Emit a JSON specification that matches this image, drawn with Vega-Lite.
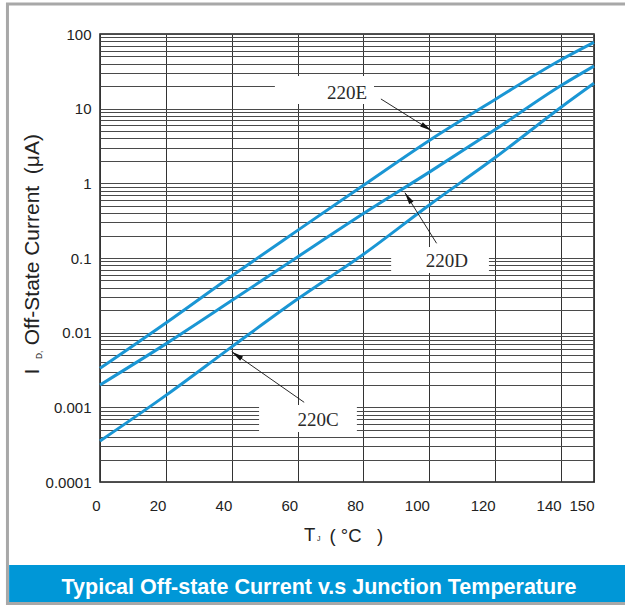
{
  "$schema": "https://vega.github.io/schema/vega-lite/v6.json",
  "width": 494,
  "height": 448,
  "autosize": "none",
  "padding": {"left": 100, "top": 34, "right": 31, "bottom": 125},
  "background": "white",
  "config": {
    "view": {"stroke": "#1a1a1a", "strokeWidth": 1.5},
    "axis": {"domain": false, "ticks": false, "labelFont": "Liberation Sans", "labelFontSize": 15, "labelColor": "#222", "titleFont": "Liberation Sans", "titleFontWeight": "normal", "titleColor": "#222"}
  },
  "datasets": {
    "curves": [
      {"s": "220E", "t": 0, "i": 0.00333}, {"s": "220E", "t": 20, "i": 0.01349}, {"s": "220E", "t": 40, "i": 0.0575}, {"s": "220E", "t": 60, "i": 0.2344}, {"s": "220E", "t": 80, "i": 0.944}, {"s": "220E", "t": 100, "i": 3.76}, {"s": "220E", "t": 120, "i": 13.3}, {"s": "220E", "t": 140, "i": 45.2}, {"s": "220E", "t": 150, "i": 77.4},
      {"s": "220D", "t": 0, "i": 0.001995}, {"s": "220D", "t": 20, "i": 0.00708}, {"s": "220D", "t": 40, "i": 0.0269}, {"s": "220D", "t": 60, "i": 0.1035}, {"s": "220D", "t": 80, "i": 0.394}, {"s": "220D", "t": 100, "i": 1.413}, {"s": "220D", "t": 120, "i": 5.25}, {"s": "220D", "t": 140, "i": 20.4}, {"s": "220D", "t": 150, "i": 37.2},
      {"s": "220C", "t": 0, "i": 0.000354}, {"s": "220C", "t": 20, "i": 0.001445}, {"s": "220C", "t": 40, "i": 0.00646}, {"s": "220C", "t": 60, "i": 0.0282}, {"s": "220C", "t": 80, "i": 0.1122}, {"s": "220C", "t": 100, "i": 0.513}, {"s": "220C", "t": 120, "i": 2.213}, {"s": "220C", "t": 140, "i": 10.47}, {"s": "220C", "t": 150, "i": 21.88}
    ],
    "notes": [
      {"name": "220E", "tx": 75.0, "ty": 16.2, "bx1": 53.1, "bx2": 83.2, "by1": 27.4, "by2": 11.55, "ax1": 85.3, "ay1": 13.48, "ax2": 100.7, "ay2": 5.07},
      {"name": "220D", "tx": 105.3, "ty": 0.0912, "bx1": 88.4, "bx2": 118.1, "by1": 0.1403, "by2": 0.063, "ax1": 102.2, "ay1": 0.1574, "ax2": 92.6, "ay2": 0.749},
      {"name": "220C", "tx": 66.2, "ty": 0.000677, "bx1": 48.3, "bx2": 78.0, "by1": 0.001074, "by2": 0.000468, "ax1": 62.0, "ay1": 0.001167, "ax2": 40.0, "ay2": 0.00556}
    ],
    "caption": [{"text": "Typical Off-state Current v.s Junction Temperature"}],
    "tsym": [{"text": "T"}],
    "subs": [{"text": "J"}],
    "subsy": [{"text": "D,"}]
  },
  "layer": [
    {
      "data": {"name": "caption"},
      "mark": {"type": "rect", "fillOpacity": 0, "stroke": "#a8a8a8", "strokeWidth": 3},
      "encoding": {
        "x": {"datum": -28.1, "type": "quantitative"},
        "x2": {"datum": 164},
        "y": {"datum": 252, "type": "quantitative"},
        "y2": {"datum": 0.00000236}
      }
    },
    {
      "data": {"name": "caption"},
      "mark": {"type": "rect", "fill": "#0097d7"},
      "encoding": {
        "x": {"datum": -27.6, "type": "quantitative"},
        "x2": {"datum": 164},
        "y": {"datum": 0.00000773, "type": "quantitative"},
        "y2": {"datum": 0.00000247}
      }
    },
    {
      "data": {"name": "notes"},
      "mark": {"type": "rect", "fill": "white"},
      "encoding": {
        "x": {"field": "bx1", "type": "quantitative"},
        "x2": {"field": "bx2"},
        "y": {"field": "by1", "type": "quantitative"},
        "y2": {"field": "by2"}
      }
    },
    {
      "data": {"name": "curves"},
      "mark": {"type": "line", "strokeWidth": 3, "interpolate": "monotone", "color": "#1a96d4"},
      "encoding": {
        "x": {
          "field": "t", "type": "quantitative",
          "scale": {"domain": [0, 150], "nice": false, "zero": false},
          "axis": {
            "values": [0, 20, 40, 60, 80, 100, 120, 140, 150],
            "grid": true, "gridColor": "#333", "gridWidth": 1,
            "labelAlign": "right", "labelDx": -1, "labelBaseline": "top", "labelPadding": 16, "labelFlush": false, "labelOverlap": false,
            "title": "(\u00a0°C\u00a0\u00a0\u00a0)", "titleFontSize": 18.5,
            "titleX": 229, "titleY": 59, "titleAlign": "left", "titleBaseline": "alphabetic", "titleAnchor": null
          }
        },
        "y": {
          "field": "i", "type": "quantitative",
          "scale": {"type": "log", "domain": [0.0001, 100], "nice": false},
          "axis": {
            "values": [0.0001, 0.0002, 0.0003, 0.0004, 0.0005, 0.0006, 0.0007, 0.0008, 0.0009, 0.001, 0.002, 0.003, 0.004, 0.005, 0.006, 0.007, 0.008, 0.009, 0.01, 0.02, 0.03, 0.04, 0.05, 0.06, 0.07, 0.08, 0.09, 0.1, 0.2, 0.3, 0.4, 0.5, 0.6, 0.7, 0.8, 0.9, 1, 2, 3, 4, 5, 6, 7, 8, 9, 10, 20, 30, 40, 50, 60, 70, 80, 90, 100],
            "format": "~g",
            "labelExpr": "(datum.value == 100 || datum.value == 10 || datum.value == 1 || datum.value == 0.1 || datum.value == 0.01 || datum.value == 0.001 || datum.value == 0.0001) ? datum.label : ''",
            "grid": true, "gridColor": "#4a4a4a", "gridWidth": 1,
            "labelPadding": 9, "labelBaseline": "middle", "labelDy": 1.5, "labelOverlap": false, "labelFlush": false,
            "title": "I\u00a0\u00a0\u00a0\u00a0Off-State Current\u00a0\u00a0(μA)", "titleFontSize": 21, "titleAngle": 270,
            "titleX": -62, "titleY": 340, "titleAlign": "left", "titleBaseline": "alphabetic", "titleAnchor": null
          }
        },
        "detail": {"field": "s", "type": "nominal"}
      }
    },
    {
      "data": {"name": "notes"},
      "mark": {"type": "rule", "color": "#111", "strokeWidth": 0.9},
      "encoding": {
        "x": {"field": "ax1", "type": "quantitative"},
        "x2": {"field": "ax2"},
        "y": {"field": "ay1", "type": "quantitative"},
        "y2": {"field": "ay2"}
      }
    },
    {
      "data": {"name": "notes"},
      "transform": [{"filter": "datum.name == '220E'"}],
      "mark": {"type": "point", "shape": "M0,0L0.42,2L-0.42,2Z", "filled": true, "color": "#111", "size": 144, "angle": 121.8, "opacity": 1},
      "encoding": {
        "x": {"field": "ax2", "type": "quantitative"},
        "y": {"field": "ay2", "type": "quantitative"}
      }
    },
    {
      "data": {"name": "notes"},
      "transform": [{"filter": "datum.name == '220D'"}],
      "mark": {"type": "point", "shape": "M0,0L0.42,2L-0.42,2Z", "filled": true, "color": "#111", "size": 144, "angle": 327.9, "opacity": 1},
      "encoding": {
        "x": {"field": "ax2", "type": "quantitative"},
        "y": {"field": "ay2", "type": "quantitative"}
      }
    },
    {
      "data": {"name": "notes"},
      "transform": [{"filter": "datum.name == '220C'"}],
      "mark": {"type": "point", "shape": "M0,0L0.42,2L-0.42,2Z", "filled": true, "color": "#111", "size": 144, "angle": 304.9, "opacity": 1},
      "encoding": {
        "x": {"field": "ax2", "type": "quantitative"},
        "y": {"field": "ay2", "type": "quantitative"}
      }
    },
    {
      "data": {"name": "notes"},
      "mark": {"type": "text", "font": "Liberation Serif", "fontSize": 19, "color": "#2a2a2a", "align": "center", "baseline": "middle"},
      "encoding": {
        "x": {"field": "tx", "type": "quantitative"},
        "y": {"field": "ty", "type": "quantitative"},
        "text": {"field": "name"}
      }
    },
    {
      "data": {"name": "tsym"},
      "mark": {"type": "text", "font": "Liberation Sans", "fontSize": 18.5, "color": "#222", "align": "left", "baseline": "alphabetic"},
      "encoding": {
        "x": {"datum": 61.94, "type": "quantitative"},
        "y": {"datum": 0.00001622, "type": "quantitative"},
        "text": {"field": "text"}
      }
    },
    {
      "data": {"name": "subs"},
      "mark": {"type": "text", "font": "Liberation Sans", "fontSize": 7, "color": "#222", "align": "left", "baseline": "alphabetic"},
      "encoding": {
        "x": {"datum": 65.9, "type": "quantitative"},
        "y": {"datum": 0.00001622, "type": "quantitative"},
        "text": {"field": "text"}
      }
    },
    {
      "data": {"name": "subsy"},
      "mark": {"type": "text", "font": "Liberation Sans", "fontSize": 8.4, "color": "#222", "align": "left", "baseline": "alphabetic", "angle": 270},
      "encoding": {
        "x": {"datum": -17.6, "type": "quantitative"},
        "y": {"datum": 0.00444, "type": "quantitative"},
        "text": {"field": "text"}
      }
    },
    {
      "data": {"name": "caption"},
      "mark": {"type": "text", "font": "Liberation Sans", "fontWeight": "bold", "fontSize": 21.5, "color": "white", "align": "center", "baseline": "alphabetic"},
      "encoding": {
        "x": {"datum": 66.5, "type": "quantitative"},
        "y": {"datum": 0.000003211, "type": "quantitative"},
        "text": {"field": "text"}
      }
    }
  ]
}
